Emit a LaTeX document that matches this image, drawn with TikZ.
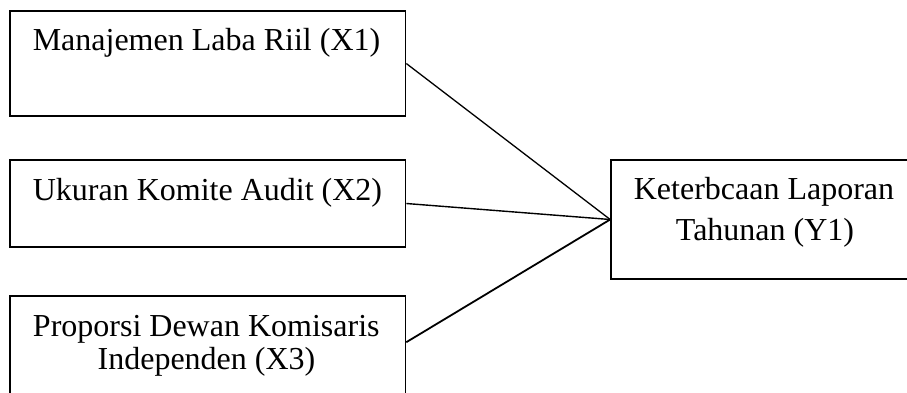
\documentclass[tikz,border=0pt]{standalone}
\usepackage{fontspec}
\setmainfont{Liberation Serif}
\begin{document}
\begin{tikzpicture}[x=1pt,y=-1pt,
  box/.style={draw=black, line width=1.6pt, rectangle, inner sep=0pt},
  lbl/.style={anchor=base, inner sep=0pt, font=\fontsize{32}{38}\selectfont},
  conn/.style={draw=black, line width=1.4pt}]
\useasboundingbox (0,0) rectangle (907,392);
\clip (0,0) rectangle (907,392);
\fill[white] (0,0) rectangle (907,392);
% boxes
\node[box, minimum width=395.5pt, minimum height=105pt] (b1) at (207.75,63.5) {};
\node[box, minimum width=395.5pt, minimum height=87pt] (b2) at (207.75,203.5) {};
\node[box, minimum width=395.5pt, minimum height=124pt] (b3) at (207.75,358) {};
\node[box, minimum width=306pt, minimum height=119pt] (y) at (764,219.5) {};
% texts
\node[lbl] (t1) at (206.5,50) {Manajemen Laba Riil (X1)};
\node[lbl] (t2) at (207.5,200) {Ukuran Komite Audit (X2)};
\node[lbl] (t3a) at (206.3,336) {Proporsi Dewan Komisaris};
\node[lbl] (t3b) at (206.5,369.5) {Independen (X3)};
\node[lbl] (ta) at (764,199.5) {Keterbcaan Laporan};
\node[lbl] (tb) at (765,240.5) {Tahunan (Y1)};
% connectors
\coordinate (c3) at ([yshift=-47pt]b3.north east);
\draw[conn, line width=1.3pt] (b1.east) -- (y.west);
\draw[conn, line width=1.4pt] (b2.east) -- (y.west);
\draw[conn, line width=1.8pt] (c3) -- (y.west);
\end{tikzpicture}
\end{document}
